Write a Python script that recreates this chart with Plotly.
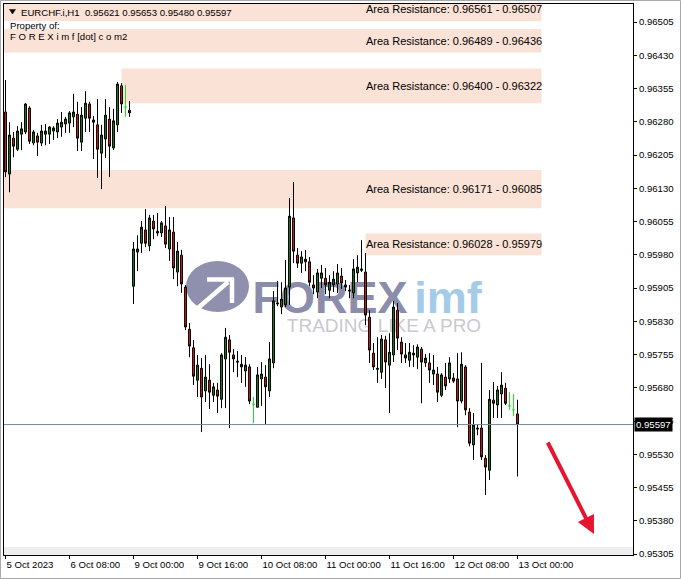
import plotly.graph_objects as go

# ---------------- data (EURCHF.i, H1; bar 0 = 5 Oct 2023 16:00) ----------------
opens = [0.96302, 0.96162, 0.96243, 0.96218, 0.96252, 0.96257, 0.96311, 0.96232, 0.96248, 0.96232,
         0.96252, 0.96252, 0.96259, 0.96257, 0.96268, 0.96275, 0.96277, 0.96291, 0.96297, 0.96234,
         0.96288, 0.96320, 0.96284, 0.96273, 0.96209, 0.96241, 0.96286, 0.96221, 0.96273, 0.96361,
         0.96313, 0.96306, 0.95909, 0.95986, 0.96006, 0.96036, 0.96000, 0.96056, 0.96029, 0.96029,
         0.96045, 0.95993, 0.96031, 0.95941, 0.95979, 0.95907, 0.95812, 0.95770, 0.95697, 0.95724,
         0.95673, 0.95697, 0.95663, 0.95675, 0.95654, 0.95745, 0.95788, 0.95754, 0.95740, 0.95733,
         0.95718, 0.95727, 0.95643, 0.95636, 0.95700, 0.95704, 0.95673, 0.95736, 0.95869, 0.95862,
         0.95867, 0.95907, 0.96063, 0.95979, 0.95961, 0.95964, 0.95964, 0.95912, 0.95896, 0.95927,
         0.95927, 0.95900, 0.95912, 0.95914, 0.95932, 0.95912, 0.95898, 0.95894, 0.95939, 0.95948,
         0.95941, 0.95839, 0.95758, 0.95724, 0.95715, 0.95788, 0.95731, 0.95754, 0.95855, 0.95783,
         0.95754, 0.95742, 0.95758, 0.95749, 0.95767, 0.95736, 0.95736, 0.95711, 0.95711, 0.95663,
         0.95704, 0.95700, 0.95702, 0.95700, 0.95650, 0.95727, 0.95625, 0.95551, 0.95589, 0.95589,
         0.95521, 0.95494, 0.95652, 0.95641, 0.95666, 0.95679, 0.95639, 0.95630, 0.95621]
highs = [0.96374, 0.96279, 0.96257, 0.96270, 0.96279, 0.96322, 0.96315, 0.96261, 0.96255, 0.96273,
         0.96275, 0.96270, 0.96270, 0.96286, 0.96302, 0.96291, 0.96304, 0.96343, 0.96325, 0.96313,
         0.96349, 0.96325, 0.96293, 0.96331, 0.96273, 0.96331, 0.96313, 0.96309, 0.96370, 0.96367,
         0.96363, 0.96327, 0.96009, 0.96024, 0.96056, 0.96083, 0.96070, 0.96070, 0.96074, 0.96056,
         0.96090, 0.96065, 0.96065, 0.96009, 0.95991, 0.95912, 0.95826, 0.95788, 0.95754, 0.95747,
         0.95754, 0.95733, 0.95691, 0.95691, 0.95758, 0.95815, 0.95799, 0.95767, 0.95763, 0.95754,
         0.95749, 0.95733, 0.95659, 0.95727, 0.95738, 0.95731, 0.95783, 0.95898, 0.95921, 0.95918,
         0.95968, 0.96108, 0.96144, 0.95995, 0.95988, 0.95991, 0.95975, 0.95934, 0.95948, 0.95957,
         0.95950, 0.95934, 0.95943, 0.95959, 0.95950, 0.95923, 0.95912, 0.95970, 0.95979, 0.96013,
         0.95984, 0.95855, 0.95781, 0.95794, 0.95799, 0.95797, 0.95803, 0.95876, 0.95871, 0.95794,
         0.95781, 0.95781, 0.95776, 0.95778, 0.95772, 0.95756, 0.95758, 0.95754, 0.95727, 0.95713,
         0.95736, 0.95749, 0.95713, 0.95758, 0.95760, 0.95731, 0.95634, 0.95623, 0.95596, 0.95736,
         0.95528, 0.95675, 0.95693, 0.95684, 0.95715, 0.95691, 0.95670, 0.95666, 0.95653]
lows = [0.96155, 0.96121, 0.96200, 0.96214, 0.96216, 0.96252, 0.96230, 0.96227, 0.96203, 0.96225,
        0.96227, 0.96230, 0.96239, 0.96243, 0.96246, 0.96255, 0.96255, 0.96268, 0.96214, 0.96214,
        0.96257, 0.96257, 0.96196, 0.96153, 0.96128, 0.96198, 0.96155, 0.96216, 0.96257, 0.96300,
        0.96291, 0.96291, 0.95869, 0.95943, 0.95984, 0.95997, 0.95988, 0.96015, 0.96022, 0.96020,
        0.95995, 0.95966, 0.95925, 0.95909, 0.95894, 0.95810, 0.95749, 0.95686, 0.95659, 0.95580,
        0.95648, 0.95632, 0.95648, 0.95623, 0.95634, 0.95634, 0.95589, 0.95715, 0.95704, 0.95691,
        0.95682, 0.95643, 0.95600, 0.95636, 0.95639, 0.95598, 0.95659, 0.95724, 0.95864, 0.95846,
        0.95862, 0.95867, 0.95961, 0.95950, 0.95939, 0.95943, 0.95909, 0.95891, 0.95882, 0.95905,
        0.95891, 0.95882, 0.95896, 0.95894, 0.95903, 0.95898, 0.95882, 0.95882, 0.95918, 0.95941,
        0.95821, 0.95736, 0.95720, 0.95691, 0.95700, 0.95679, 0.95623, 0.95738, 0.95765, 0.95736,
        0.95736, 0.95727, 0.95727, 0.95722, 0.95645, 0.95727, 0.95691, 0.95686, 0.95648, 0.95659,
        0.95675, 0.95691, 0.95691, 0.95591, 0.95645, 0.95618, 0.95548, 0.95517, 0.95573, 0.95517,
        0.95438, 0.95472, 0.95612, 0.95612, 0.95612, 0.95641, 0.95630, 0.95616, 0.95480]
closes = [0.96167, 0.96250, 0.96225, 0.96259, 0.96264, 0.96320, 0.96236, 0.96257, 0.96234, 0.96259,
          0.96259, 0.96268, 0.96266, 0.96277, 0.96279, 0.96286, 0.96300, 0.96302, 0.96243, 0.96295,
          0.96322, 0.96288, 0.96279, 0.96218, 0.96250, 0.96295, 0.96225, 0.96282, 0.96365, 0.96320,
          0.96313, 0.96300, 0.95993, 0.95993, 0.96042, 0.96006, 0.96063, 0.96038, 0.96033, 0.96052,
          0.96004, 0.96036, 0.95950, 0.95988, 0.95914, 0.95817, 0.95774, 0.95706, 0.95731, 0.95659,
          0.95704, 0.95670, 0.95682, 0.95661, 0.95754, 0.95794, 0.95760, 0.95745, 0.95738, 0.95727,
          0.95731, 0.95650, 0.95643, 0.95709, 0.95711, 0.95682, 0.95745, 0.95876, 0.95871, 0.95880,
          0.95905, 0.96067, 0.95988, 0.95961, 0.95975, 0.95970, 0.95918, 0.95905, 0.95939, 0.95939,
          0.95912, 0.95918, 0.95925, 0.95939, 0.95916, 0.95907, 0.95900, 0.95948, 0.95952, 0.95945,
          0.95844, 0.95765, 0.95727, 0.95722, 0.95790, 0.95738, 0.95760, 0.95862, 0.95792, 0.95756,
          0.95747, 0.95760, 0.95754, 0.95772, 0.95738, 0.95747, 0.95720, 0.95720, 0.95670, 0.95709,
          0.95684, 0.95736, 0.95695, 0.95650, 0.95733, 0.95630, 0.95555, 0.95596, 0.95587, 0.95524,
          0.95501, 0.95654, 0.95645, 0.95675, 0.95686, 0.95645, 0.95639, 0.95630, 0.95597]

x_tick_bars = [0, 16, 32, 48, 64, 80, 96, 112, 128]
x_tick_labels = ["5 Oct 2023", "6 Oct 08:00", "9 Oct 00:00", "9 Oct 16:00", "10 Oct 08:00",
                 "11 Oct 00:00", "11 Oct 16:00", "12 Oct 08:00", "13 Oct 00:00"]
y_tick_values = [0.95305, 0.95380, 0.95455, 0.95530, 0.95605, 0.95680, 0.95755, 0.95830, 0.95905,
                 0.95980, 0.96055, 0.96130, 0.96205, 0.96280, 0.96355, 0.96430, 0.96505]

zone_high = [0.96561, 0.96489, 0.96400, 0.96171, 0.96028]
zone_low = [0.96507, 0.96436, 0.96322, 0.96085, 0.95979]
zone_start_bar = [-20, -20, 29, -20, 90]
zone_end_bar = [134, 134, 134, 134, 134]

symbol = "EURCHF.i,H1"
# ---------------------------------------------------------------------------------

W, H = 681, 579
L, R, T, B = 4, 633, 4, 555
FONT = "Liberation Sans"


def pxx(x):
    return (x - L) / (R - L)


def pxy(y):
    return (B - y) / (B - T)


n = len(opens)
idx = list(range(n))
doji = [i for i in idx if opens[i] == closes[i]]
norm = [i for i in idx if opens[i] != closes[i]]

fig = go.Figure()
fig.add_trace(go.Candlestick(
    x=norm, open=[opens[i] for i in norm], high=[highs[i] for i in norm],
    low=[lows[i] for i in norm], close=[closes[i] for i in norm],
    increasing=dict(line=dict(color="black", width=1), fillcolor="#0b820b"),
    decreasing=dict(line=dict(color="black", width=1), fillcolor="#e01010"),
    whiskerwidth=0, hoverinfo="skip", showlegend=False))
fig.add_trace(go.Candlestick(
    x=doji, open=[opens[i] for i in doji], high=[highs[i] for i in doji],
    low=[lows[i] for i in doji], close=[closes[i] for i in doji],
    increasing=dict(line=dict(color="#22e022", width=1), fillcolor="#22e022"),
    decreasing=dict(line=dict(color="#22e022", width=1), fillcolor="#22e022"),
    whiskerwidth=0, hoverinfo="skip", showlegend=False))

shapes = []
annotations = []

# bottom grey strip
shapes.append(dict(type="rect", xref="paper", yref="paper", x0=0, x1=1, y0=0, y1=pxy(547),
                   fillcolor="#eeeeee", line=dict(width=0), layer="below"))

# resistance zones
for hi, lo, s, e in zip(zone_high, zone_low, zone_start_bar, zone_end_bar):
    shapes.append(dict(type="rect", xref="x", yref="y", x0=s, x1=e, y0=lo, y1=hi,
                       fillcolor="#fbe2d6", line=dict(width=0), layer="below"))
    annotations.append(dict(xref="x", yref="y", x=e, y=(hi + lo) / 2, xanchor="right",
                            yanchor="middle", xshift=2, showarrow=False,
                            text=f"Area Resistance: {hi:.5f} - {lo:.5f}",
                            font=dict(family=FONT, size=11, color="black")))

# watermark (below candles)
shapes.append(dict(type="circle", xref="paper", yref="paper", x0=pxx(186), x1=pxx(249),
                   y0=pxy(312), y1=pxy(261), fillcolor="#8f90ae", line=dict(width=0), layer="below"))
for (xa, ya, xb, yb) in [(198, 308, 228, 282), (207, 279.5, 234, 279.5), (232, 278, 232, 303)]:
    shapes.append(dict(type="line", xref="paper", yref="paper", x0=pxx(xa), y0=pxy(ya),
                       x1=pxx(xb), y1=pxy(yb), line=dict(color="white", width=4.5), layer="below"))
shapes.append(dict(type="rect", xref="paper", yref="paper", x0=pxx(250), x1=pxx(410),
                   y0=pxy(314), y1=pxy(272), line=dict(width=0), fillcolor="rgba(0,0,0,0)",
                   layer="below",
                   label=dict(text="<b>FOREX</b>", textposition="middle center",
                              font=dict(family=FONT, size=45, color="#8c8dab"))))
shapes.append(dict(type="rect", xref="paper", yref="paper", x0=pxx(408), x1=pxx(488),
                   y0=pxy(314), y1=pxy(272), line=dict(width=0), fillcolor="rgba(0,0,0,0)",
                   layer="below",
                   label=dict(text="<b>imf</b>", textposition="middle center",
                              font=dict(family=FONT, size=45, color="#a4cbe8"))))
shapes.append(dict(type="rect", xref="paper", yref="paper", x0=pxx(284), x1=pxx(484),
                   y0=pxy(332), y1=pxy(314), line=dict(width=0), fillcolor="rgba(0,0,0,0)",
                   layer="below",
                   label=dict(text="TRADING LIKE A PRO", textposition="middle center",
                              font=dict(family=FONT, size=19, color="#c9c9ce"))))

# bid line
shapes.append(dict(type="line", xref="paper", yref="y", x0=0, x1=1, y0=closes[-1], y1=closes[-1],
                   line=dict(color="#778899", width=1)))

# header triangle
shapes.append(dict(type="path", xref="paper", yref="paper",
                   path=f"M {pxx(9.5)},{pxy(9.5)} L {pxx(15.5)},{pxy(9.5)} L {pxx(12.5)},{pxy(14)} Z",
                   fillcolor="black", line=dict(color="black", width=0.5)))

# outer window border
shapes.append(dict(type="rect", xref="paper", yref="paper", x0=pxx(0.5), x1=pxx(W - 0.5),
                   y0=pxy(H - 0.5), y1=pxy(0.5), line=dict(color="#a8a8a8", width=1),
                   fillcolor="rgba(0,0,0,0)"))

# header texts
annotations.append(dict(xref="paper", yref="paper", x=pxx(19), y=pxy(12.5), xanchor="left",
                        yanchor="middle", showarrow=False,
                        text=f"{symbol}\u00a0 {opens[-1]:.5f} {highs[-1]:.5f} {lows[-1]:.5f} {closes[-1]:.5f}",
                        font=dict(family=FONT, size=9.6, color="black")))
annotations.append(dict(xref="paper", yref="paper", x=pxx(8), y=pxy(26), xanchor="left",
                        yanchor="middle", showarrow=False, text="Property of:",
                        font=dict(family=FONT, size=9.6, color="black")))
annotations.append(dict(xref="paper", yref="paper", x=pxx(8), y=pxy(37), xanchor="left",
                        yanchor="middle", showarrow=False, text="F O R E X i m f [dot] c o m2",
                        font=dict(family=FONT, size=9.6, color="black")))

# current price tag
annotations.append(dict(xref="paper", yref="y", x=pxx(634), y=closes[-1], xanchor="left",
                        yanchor="middle", showarrow=False, text=f"{closes[-1]:.5f}",
                        bgcolor="black", borderpad=1,
                        font=dict(family=FONT, size=9.6, color="white")))

# red arrow
annotations.append(dict(xref="paper", yref="paper", x=pxx(594), y=pxy(534), ax=-47, ay=-93,
                        axref="pixel", ayref="pixel", text="", showarrow=True, arrowhead=2,
                        arrowsize=0.9, arrowwidth=4, arrowcolor="#e8132e"))

fig.update_layout(
    width=W, height=H,
    margin=dict(l=L, r=W - R, t=T, b=H - B, pad=0),
    paper_bgcolor="white", plot_bgcolor="white",
    showlegend=False, boxgap=0.3, boxmode="overlay",
    shapes=shapes, annotations=annotations,
    xaxis=dict(range=[-0.375, -0.375 + (R - L) / 4.0], tickmode="array", tickvals=x_tick_bars,
               ticktext=x_tick_labels, ticks="outside", ticklen=3, tickcolor="black",
               ticklabelposition="outside right",
               tickfont=dict(family=FONT, size=9.6, color="black"),
               showline=True, linecolor="black", linewidth=1, mirror=True,
               showgrid=False, zeroline=False, rangeslider=dict(visible=False), fixedrange=True,
               automargin=False),
    yaxis=dict(range=[0.95305 - (B - 554) * 0.000022556, 0.96505 + (22 - T) * 0.000022556],
               side="right", tickmode="array", tickvals=y_tick_values,
               ticktext=[f"{v:.5f}" for v in y_tick_values], ticks="outside", ticklen=3,
               tickcolor="black", tickfont=dict(family=FONT, size=9.6, color="black"),
               showline=True, linecolor="black", linewidth=1, mirror=True,
               showgrid=False, zeroline=False, fixedrange=True, automargin=False),
)

fig.write_html("out.html", config=dict(displayModeBar=False),
               post_script="document.body.style.margin='0';document.body.style.overflow='hidden';")
